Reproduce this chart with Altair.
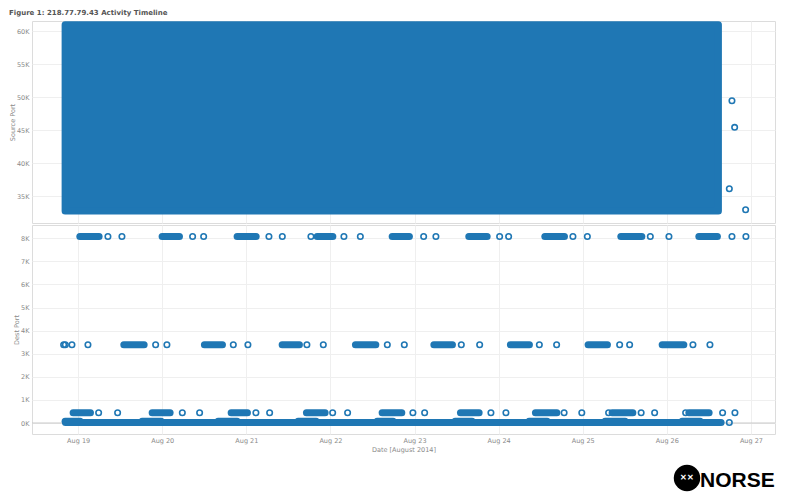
import altair as alt
import pandas as pd

BLUE = "#1f77b4"

# ---------------- data ----------------
# Top panel: dense band of source ports (first / last time, min / max port)
src_block_start = ["2014-08-18T20:17"]
src_block_end = ["2014-08-26T14:43"]
src_port_min = [32768]
src_port_max = [61000]
# isolated source-port points at the end
src_out_time = ["2014-08-26T18:35", "2014-08-26T19:21", "2014-08-26T17:50", "2014-08-26T22:29"]
src_out_port = [49480, 45450, 36150, 32970]

# Bottom panel: dense runs of destination ports (start / end of each run)
run8080_start = ["2014-08-19T00:29", "2014-08-19T23:58", "2014-08-20T21:22", "2014-08-21T20:12", "2014-08-22T17:37",
                 "2014-08-23T15:29", "2014-08-24T13:11", "2014-08-25T10:52", "2014-08-26T09:08"]
run8080_end = ["2014-08-19T05:59", "2014-08-20T04:55", "2014-08-21T02:48", "2014-08-22T00:41", "2014-08-22T22:32",
               "2014-08-23T20:43", "2014-08-24T18:47", "2014-08-25T16:52", "2014-08-26T14:26"]
run3389_start = ["2014-08-19T13:02", "2014-08-20T12:02", "2014-08-21T10:13", "2014-08-22T07:08", "2014-08-23T05:31",
                 "2014-08-24T03:22", "2014-08-25T01:32", "2014-08-25T22:40"]
run3389_end = ["2014-08-19T18:50", "2014-08-20T17:11", "2014-08-21T15:09", "2014-08-22T12:57", "2014-08-23T10:49",
               "2014-08-24T08:47", "2014-08-25T07:03", "2014-08-26T04:51"]
run445_start = ["2014-08-18T22:34", "2014-08-19T21:07", "2014-08-20T19:40", "2014-08-21T17:09", "2014-08-22T14:45",
                "2014-08-23T13:06", "2014-08-24T10:30", "2014-08-25T08:23", "2014-08-26T06:17"]
run445_end = ["2014-08-19T03:31", "2014-08-20T02:15", "2014-08-21T00:19", "2014-08-21T22:29", "2014-08-22T20:22",
              "2014-08-23T18:26", "2014-08-24T16:37", "2014-08-25T14:18", "2014-08-26T12:04"]
run80_start = ["2014-08-18T20:17", "2014-08-19T18:16", "2014-08-20T15:57", "2014-08-21T14:47", "2014-08-22T13:20",
               "2014-08-23T11:35", "2014-08-24T08:42", "2014-08-25T06:23", "2014-08-26T04:22"]
run80_end = ["2014-08-19T00:34", "2014-08-19T23:41", "2014-08-20T21:22", "2014-08-21T19:55", "2014-08-22T17:53",
             "2014-08-23T16:26", "2014-08-24T13:50", "2014-08-25T12:06", "2014-08-26T09:30"]
run23_start = ["2014-08-18T20:23"]
run23_end = ["2014-08-26T15:29"]

# isolated destination-port points
pt8080 = ["2014-08-19T08:30", "2014-08-19T12:30", "2014-08-20T08:40", "2014-08-20T11:49", "2014-08-21T06:27",
          "2014-08-21T10:16", "2014-08-21T18:26", "2014-08-22T03:51", "2014-08-22T08:32", "2014-08-23T02:36",
          "2014-08-23T06:06", "2014-08-24T00:17", "2014-08-24T02:51", "2014-08-24T21:12", "2014-08-25T01:19",
          "2014-08-25T19:17", "2014-08-26T00:36", "2014-08-26T18:35", "2014-08-26T22:34"]
pt3389 = ["2014-08-18T19:52", "2014-08-18T20:21", "2014-08-18T22:14", "2014-08-19T02:48", "2014-08-19T22:07",
          "2014-08-20T01:20", "2014-08-20T20:17", "2014-08-21T00:27", "2014-08-21T17:17", "2014-08-21T21:58",
          "2014-08-22T16:14", "2014-08-22T21:05", "2014-08-23T13:21", "2014-08-23T18:35", "2014-08-24T11:37",
          "2014-08-24T16:33", "2014-08-25T10:32", "2014-08-25T13:23", "2014-08-26T07:27", "2014-08-26T12:18"]
pt445 = ["2014-08-19T05:51", "2014-08-19T11:16", "2014-08-20T05:44", "2014-08-20T10:40", "2014-08-21T02:44",
         "2014-08-21T06:39", "2014-08-22T00:38", "2014-08-22T04:54", "2014-08-22T23:32", "2014-08-23T02:53",
         "2014-08-23T21:48", "2014-08-24T02:05", "2014-08-24T18:41", "2014-08-24T23:44", "2014-08-25T07:23",
         "2014-08-25T16:40", "2014-08-25T20:31", "2014-08-26T05:22", "2014-08-26T15:55", "2014-08-26T19:26"]
pt23 = ["2014-08-26T17:50"]

src_ticks = [35000, 40000, 45000, 50000, 55000, 60000]
dst_ticks = [0, 1000, 2000, 3000, 4000, 5000, 6000, 7000, 8000]

# ---------------- tables ----------------
block_df = pd.DataFrame({"start": src_block_start, "end": src_block_end,
                         "pmin": src_port_min, "pmax": src_port_max})
src_pts_df = pd.DataFrame({"time": src_out_time, "port": src_out_port})

runs = []
for port, s, e in [(8080, run8080_start, run8080_end), (3389, run3389_start, run3389_end),
                   (445, run445_start, run445_end), (80, run80_start, run80_end),
                   (23, run23_start, run23_end)]:
    for a, b in zip(s, e):
        runs.append({"start": a, "end": b, "port": port})
runs_df = pd.DataFrame(runs)

pts = []
for port, lst in [(8080, pt8080), (3389, pt3389), (445, pt445), (23, pt23)]:
    for t in lst:
        pts.append({"time": t, "port": port})
dst_pts_df = pd.DataFrame(pts)

zero_df = pd.DataFrame({"v": [0]})
logo_df = pd.DataFrame({"name": ["NORSE"]})

# ---------------- scales ----------------
x_dom = [alt.DateTime(year=2014, month=8, date=18, hours=10, minutes=50),
         alt.DateTime(year=2014, month=8, date=27, hours=6, minutes=52)]
x_scale = alt.Scale(domain=x_dom)
W = 743

top_x_axis = alt.Axis(labels=False, ticks=False, domain=False, title=None, grid=True,
                      tickCount={"interval": "day", "step": 1})
bot_x_axis = alt.Axis(format="%b %d", title="Date [August 2014]", grid=True, labelPadding=3,
                      titlePadding=3, tickCount={"interval": "day", "step": 1})

src_y = alt.Scale(domain=[30955, 61560], nice=False, zero=False)
src_axis = alt.Axis(values=src_ticks, labelExpr="datum.value / 1000 + 'K'", title="Source Port",
                    labelPadding=3, titlePadding=1)
dst_y = alt.Scale(domain=[-476, 8576], nice=False, zero=False)
dst_axis = alt.Axis(values=dst_ticks, labelExpr="datum.value / 1000 + 'K'", title="Dest Port",
                    labelPadding=3, titlePadding=1)

# ---------------- top panel ----------------
block = alt.Chart(block_df).mark_rect(color=BLUE, stroke=BLUE, strokeWidth=7, strokeJoin="round").encode(
    x=alt.X("start:T", scale=x_scale, axis=top_x_axis),
    x2="end:T",
    y=alt.Y("pmin:Q", scale=src_y, axis=src_axis),
    y2="pmax:Q",
)
src_pts = alt.Chart(src_pts_df).mark_point(shape="circle", filled=False, size=30, strokeWidth=1.6,
                                           color=BLUE, opacity=1).encode(
    x=alt.X("time:T", scale=x_scale, axis=top_x_axis),
    y=alt.Y("port:Q", scale=src_y, axis=src_axis),
)
top = alt.layer(block, src_pts).properties(width=W, height=202)

# ---------------- bottom panel ----------------
zero = alt.Chart(zero_df).mark_rule(color="#c8c8c8", strokeWidth=1).encode(
    y=alt.Y("v:Q", scale=dst_y, axis=dst_axis)
)
run_marks = alt.Chart(runs_df).mark_rule(color=BLUE, strokeWidth=7, strokeCap="round").encode(
    x=alt.X("start:T", scale=x_scale, axis=bot_x_axis),
    x2="end:T",
    y=alt.Y("port:Q", scale=dst_y, axis=dst_axis),
)
dst_pts = alt.Chart(dst_pts_df).mark_point(shape="circle", filled=False, size=30, strokeWidth=1.6,
                                           color=BLUE, opacity=1).encode(
    x=alt.X("time:T", scale=x_scale, axis=bot_x_axis),
    y=alt.Y("port:Q", scale=dst_y, axis=dst_axis),
)
logo_circle = alt.Chart(logo_df).mark_point(shape="circle", filled=True, size=700, color="black",
                                            opacity=1).encode(
    x=alt.value(655), y=alt.value(253)
)
logo_sym = alt.Chart(logo_df).mark_text(text="✕✕", color="white", fontSize=8, fontWeight="bold",
                                        align="center", baseline="middle").encode(
    x=alt.value(655), y=alt.value(253)
)
logo_text = alt.Chart(logo_df).mark_text(font="Liberation Sans", fontSize=21, fontWeight="bold",
                                         color="black", align="left", baseline="alphabetic").encode(
    x=alt.value(668), y=alt.value(262), text="name:N"
)
bottom = alt.layer(zero, run_marks, dst_pts, logo_circle, logo_sym, logo_text).properties(width=W, height=209)

chart = alt.vconcat(top, bottom, spacing=0).resolve_scale(y="independent").properties(
    title=alt.TitleParams("Figure 1: 218.77.79.43 Activity Timeline", anchor="start", frame="bounds",
                          font="DejaVu Sans", fontSize=7, fontWeight="bold", color="#555555", offset=5),
    padding=0,
).configure_view(stroke="#dcdcdc").configure_axis(
    labelFont="DejaVu Sans", labelFontSize=6.5, labelColor="#8a8a8a",
    titleFont="DejaVu Sans", titleFontSize=6.5, titleColor="#8a8a8a", titleFontWeight="normal",
    gridColor="#efefef", domain=False, ticks=False,
)

chart.save("out.html", embed_options={"renderer": "svg", "actions": False})
